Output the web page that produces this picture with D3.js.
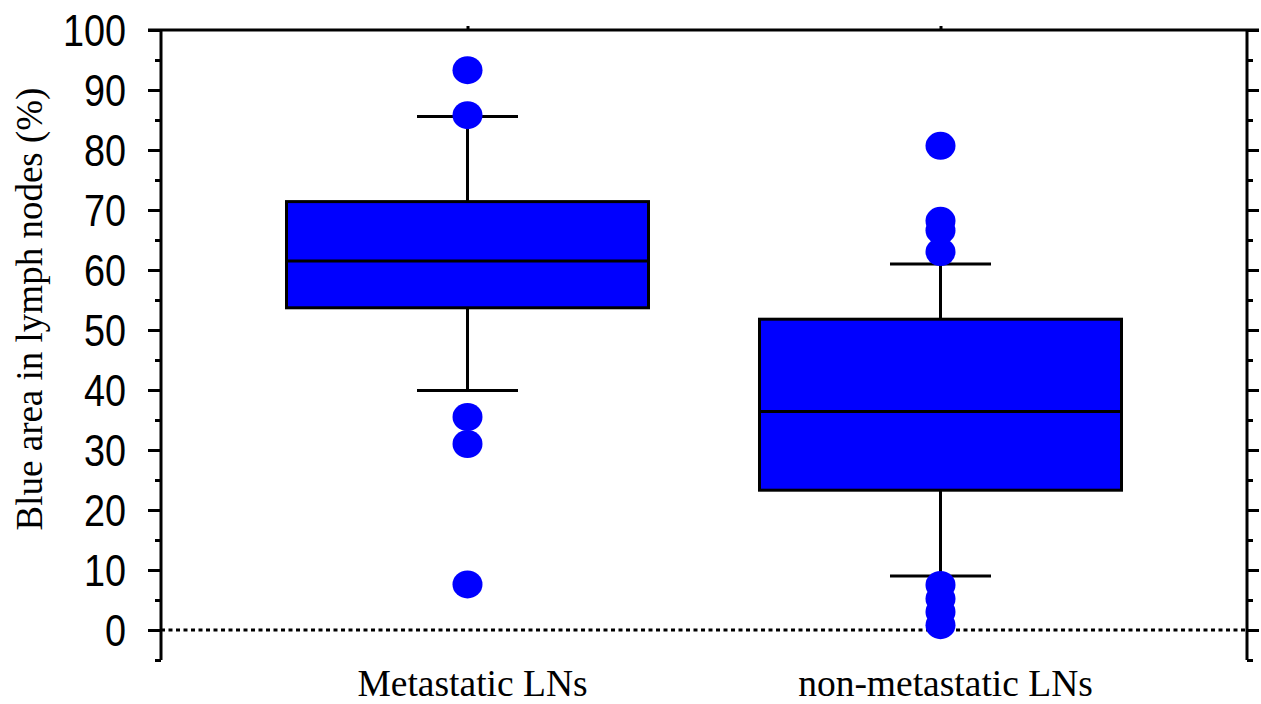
<!DOCTYPE html>
<html>
<head>
<meta charset="utf-8">
<script src="https://cdn.jsdelivr.net/npm/d3@7"></script>
<style>
  body { margin: 0; background: #fff; }
  svg { display: block; }
</style>
</head>
<body>
<script>
const width = 1261;
const height = 704;
const margin = { top: 30, right: 14, bottom: 44, left: 161 };

// data
const categories = ["Metastatic LNs", "non-metastatic LNs"];
const q1 = [53.7, 23.3];
const medians = [61.5, 36.4];
const q3 = [71.4, 51.8];
const whiskerLow = [39.9, 9.0];
const whiskerHigh = [85.6, 61.0];
const outliers = [
  [93.3, 85.8, 35.5, 31.0, 7.6],
  [80.7, 68.2, 66.6, 63.0, 7.5, 5.2, 3.0, 0.8]
];
const majorTicks = [0, 10, 20, 30, 40, 50, 60, 70, 80, 90, 100];
const minorTicks = [-5, 5, 15, 25, 35, 45, 55, 65, 75, 85, 95];

const boxes = categories.map((c, i) => ({
  name: c, q1: q1[i], med: medians[i], q3: q3[i],
  lo: whiskerLow[i], hi: whiskerHigh[i], out: outliers[i]
}));

const x0 = margin.left;
const x1 = width - margin.right;

const x = d3.scalePoint()
  .domain(categories)
  .range([x0, x1])
  .padding(0.648);

const y = d3.scaleLinear()
  .domain([-5, 100])
  .range([height - margin.bottom, margin.top]);

const boxW = 362;
const capW = 101;
const blue = "#0000ff";

const svg = d3.select("body").append("svg")
  .attr("width", width)
  .attr("height", height);

// zero reference line
svg.append("line")
  .attr("x1", x0).attr("x2", x1)
  .attr("y1", y(0)).attr("y2", y(0))
  .attr("stroke", "#000")
  .attr("stroke-width", 3)
  .attr("stroke-dasharray", "4,3.5");

const g = svg.selectAll("g.box")
  .data(boxes)
  .join("g")
  .attr("class", "box")
  .attr("transform", (d) => `translate(${x(d.name)},0)`);

// whisker stems
g.append("line")
  .attr("x1", 0).attr("x2", 0)
  .attr("y1", (d) => y(d.hi)).attr("y2", (d) => y(d.q3))
  .attr("stroke", "#000").attr("stroke-width", 3);
g.append("line")
  .attr("x1", 0).attr("x2", 0)
  .attr("y1", (d) => y(d.q1)).attr("y2", (d) => y(d.lo))
  .attr("stroke", "#000").attr("stroke-width", 3);

// caps
g.selectAll("line.cap")
  .data((d) => [d.lo, d.hi])
  .join("line")
  .attr("class", "cap")
  .attr("x1", -capW / 2).attr("x2", capW / 2)
  .attr("y1", (v) => y(v)).attr("y2", (v) => y(v))
  .attr("stroke", "#000").attr("stroke-width", 3);

// box
g.append("rect")
  .attr("x", -boxW / 2)
  .attr("width", boxW)
  .attr("y", (d) => y(d.q3))
  .attr("height", (d) => y(d.q1) - y(d.q3))
  .attr("fill", blue)
  .attr("stroke", "#000")
  .attr("stroke-width", 3);

g.append("line")
  .attr("x1", -boxW / 2).attr("x2", boxW / 2)
  .attr("y1", (d) => y(d.med)).attr("y2", (d) => y(d.med))
  .attr("stroke", "#000").attr("stroke-width", 3);

// outliers
g.selectAll("ellipse")
  .data((d) => d.out)
  .join("ellipse")
  .attr("cx", 0)
  .attr("cy", (v) => y(v))
  .attr("rx", 15)
  .attr("ry", 14)
  .attr("fill", blue);

// left axis
const yLeft = svg.append("g")
  .attr("transform", `translate(${x0},0)`)
  .call(d3.axisLeft(y).tickValues(majorTicks).tickSize(13).tickPadding(22))
  .call((a) => a.select(".domain").attr("d", `M0,${y(-5)}V${y(100)}`));
yLeft.selectAll("line, path").attr("stroke", "#000").attr("stroke-width", 3);
// narrow digits: squeeze Liberation Sans horizontally
yLeft.selectAll("text")
  .attr("x", null)
  .attr("transform", "translate(-35,0) scale(0.86,1)")
  .attr("font-family", "'Liberation Sans', Arial, sans-serif")
  .attr("font-size", 44)
  .attr("fill", "#000")
  .attr("dy", "0.36em");

svg.append("g")
  .attr("transform", `translate(${x0},0)`)
  .call(d3.axisLeft(y).tickValues(minorTicks).tickSize(6).tickFormat(""))
  .call((a) => a.select(".domain").remove())
  .selectAll("line").attr("stroke", "#000").attr("stroke-width", 3);

// right axis
const yRight = svg.append("g")
  .attr("transform", `translate(${x1},0)`)
  .call(d3.axisRight(y).tickValues(majorTicks).tickSize(12).tickFormat(""))
  .call((a) => a.select(".domain").attr("d", `M0,${y(-5)}V${y(100)}`));
yRight.selectAll("line, path").attr("stroke", "#000").attr("stroke-width", 3);

svg.append("g")
  .attr("transform", `translate(${x1},0)`)
  .call(d3.axisRight(y).tickValues(minorTicks).tickSize(6).tickFormat(""))
  .call((a) => a.select(".domain").remove())
  .selectAll("line").attr("stroke", "#000").attr("stroke-width", 3);

// top axis
const xTop = svg.append("g")
  .attr("transform", `translate(0,${y(100)})`)
  .call(d3.axisTop(x).tickSize(4).tickFormat(""))
  .call((a) => a.select(".domain").attr("d", `M${x0 - 13},0H${x1 + 12}`));
xTop.selectAll("line, path").attr("stroke", "#000").attr("stroke-width", 3);

// category labels
svg.selectAll("text.cat")
  .data(categories)
  .join("text")
  .attr("class", "cat")
  .attr("x", (d) => x(d) + 5)
  .attr("y", 696)
  .attr("text-anchor", "middle")
  .attr("font-family", "'Liberation Serif', 'Times New Roman', serif")
  .attr("font-size", 37.5)
  .text((d) => d);

// y label
svg.append("text")
  .attr("transform", `translate(42,${(88 + 530) / 2}) rotate(-90)`)
  .attr("text-anchor", "middle")
  .attr("font-family", "'Liberation Serif', 'Times New Roman', serif")
  .attr("font-size", 37)
  .text("Blue area in lymph nodes (%)");
</script>
</body>
</html>
